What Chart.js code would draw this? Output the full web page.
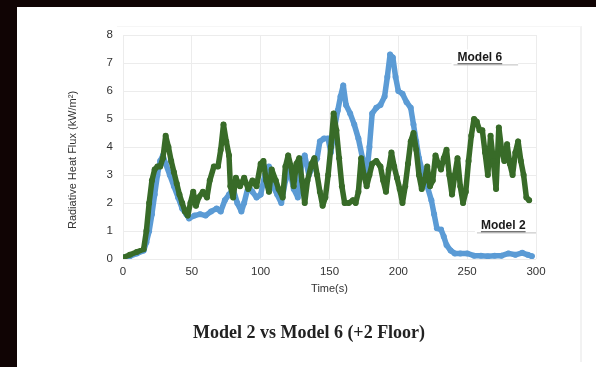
<!DOCTYPE html>
<html>
<head>
<meta charset="utf-8">
<script src="https://cdn.jsdelivr.net/npm/chart.js@4/dist/chart.umd.min.js"></script>
<style>
  html, body { margin: 0; padding: 0; background: #100404; }
  body { width: 596px; height: 367px; position: relative; overflow: hidden; }
  #paper { position: absolute; left: 17px; top: 7px; right: 0; bottom: 0; background: #fff; }
  #frame { position: absolute; left: 117px; top: 26px; width: 463px; height: 335px; border-right: 2px solid #f2f2f2; border-top: 1px solid #f6f6f6; }
  #wrap { position: absolute; left: 0; top: 0; width: 596px; height: 367px; }
  #caption { position: absolute; left: 0; width: 618px; top: 322px; text-align: center;
    font-family: "Liberation Serif", "DejaVu Serif", serif; font-weight: bold; font-size: 18px; color: #222; }
</style>
</head>
<body>
<div id="paper"></div>
<div id="frame"></div>
<div id="wrap"><canvas id="chart" width="596" height="367"></canvas></div>
<div id="caption">Model 2 vs Model 6 (+2 Floor)</div>
<script>
(function () {
    'use strict';

    // Model 2 (blue)
    var model2Time = [0, 5, 10, 15, 17, 19, 21, 23, 25, 27, 29, 31, 34, 37, 40, 43, 46, 48, 52, 56,
        60, 64, 68, 71, 74, 77, 80, 83, 86, 88, 91, 94, 97, 100, 103, 106, 109, 112, 115, 118,
        121, 124, 127, 130, 132, 135, 138, 141, 143, 146, 149, 151, 153, 156, 158, 160, 162, 165, 168, 171,
        174, 177, 179, 181, 184, 187, 190, 192, 194, 196, 198, 200, 203, 206, 209, 211, 213, 215, 218, 221,
        224, 226, 228, 231, 233, 235, 238, 241, 245, 250, 255, 260, 265, 270, 275, 280, 285, 290, 294, 297];
    var model2Flux = [0.05, 0.1, 0.2, 0.3, 0.6, 1.0, 1.6, 2.3, 3.0, 3.5, 3.7, 3.4, 3.0, 2.6, 2.2, 1.8, 1.6, 1.45, 1.55, 1.6,
        1.55, 1.7, 1.8, 1.7, 2.1, 2.3, 2.5, 2.0, 1.7, 2.0, 2.6, 2.4, 2.2, 2.3, 3.0, 3.3, 2.6, 2.3, 2.0, 2.8,
        3.2, 2.5, 2.2, 3.5, 3.7, 3.0, 3.3, 3.6, 4.2, 4.3, 4.3, 3.8, 4.5, 5.3, 5.8, 6.2, 5.5, 5.2, 4.8, 4.3,
        3.6, 3.0, 4.0, 5.2, 5.4, 5.5, 5.8, 6.5, 7.3, 7.2, 6.5, 6.0, 5.9, 5.6, 5.4, 4.8, 4.2, 3.6, 3.0, 2.6,
        2.1, 1.6, 1.1, 1.05, 0.8, 0.5, 0.3, 0.2, 0.2, 0.2, 0.12, 0.12, 0.1, 0.12, 0.12, 0.2, 0.15, 0.22, 0.15, 0.1];

    // Model 6 (green)
    var model6Time = [0, 5, 10, 15, 17, 19, 21, 23, 25, 27, 29, 31, 33, 35, 37, 39, 41, 43, 45, 47,
        49, 51, 53, 55, 58, 61, 63, 66, 69, 71, 73, 75, 77, 78, 80, 82, 85, 88, 91, 94,
        97, 100, 102, 104, 106, 108, 111, 113, 116, 118, 120, 122, 124, 126, 128, 130, 132, 134, 137, 139,
        141, 143, 145, 147, 149, 151, 153, 155, 157, 159, 161, 164, 167, 169, 171, 173, 175, 177, 179, 181,
        184, 187, 189, 191, 193, 195, 197, 199, 201, 203, 205, 207, 209, 211, 213, 215, 217, 219, 221, 223,
        225, 227, 229, 231, 233, 235, 237, 239, 241, 243, 245, 247, 249, 251, 253, 255, 257, 259, 261, 263,
        265, 267, 269, 271, 273, 275, 277, 279, 281, 283, 285, 287, 289, 291, 293, 295];
    var model6Flux = [0.05, 0.15, 0.25, 0.35, 1.0, 2.0, 2.8, 3.2, 3.3, 3.3, 3.6, 4.4, 4.0, 3.5, 3.1, 2.7, 2.3, 2.0, 1.7, 1.55,
        2.0, 2.4, 1.9, 2.2, 2.4, 2.2, 2.8, 3.3, 3.3, 3.9, 4.8, 4.2, 3.7, 2.6, 2.2, 2.9, 2.6, 2.9, 2.5, 2.8,
        2.6, 3.4, 3.5, 2.8, 2.4, 3.2, 2.8, 2.5, 2.2, 3.3, 3.7, 3.3, 2.6, 3.4, 3.6, 2.8, 2.0, 2.8, 3.4, 3.6,
        3.0, 2.4, 1.9, 2.2, 3.0, 4.0, 5.2, 4.6, 3.6, 2.6, 2.0, 2.0, 2.1, 2.0, 2.4, 3.6, 3.0, 2.6, 3.0, 3.4,
        3.5, 3.3, 2.8, 2.4, 3.2, 3.8, 3.3, 2.9, 2.5, 2.0, 2.6, 3.4, 4.2, 4.5, 3.9, 3.0, 2.5, 2.8, 3.3, 2.6,
        2.8, 3.7, 3.4, 3.2, 3.6, 3.9, 3.0, 2.3, 3.0, 3.6, 2.6, 2.0, 2.4, 3.5, 4.4, 5.0, 4.9, 4.6, 4.6, 3.8,
        3.0, 4.4, 3.5, 2.5, 4.7, 3.9, 3.5, 4.1, 3.4, 3.0, 3.8, 4.2, 3.5, 3.0, 2.2, 2.1];

    var xTicks = [0, 50, 100, 150, 200, 250, 300];
    var yTicks = [0, 1, 2, 3, 4, 5, 6, 7, 8];

    var yTitle = 'Radiative Heat Flux (kW/m²)';

    // text notes sitting inside the plot, at data coordinates
    var notes = [
        { text: 'Model 6', t: 243, v: 7.2, lineTo: 287 },
        { text: 'Model 2', t: 260, v: 1.2, lineTo: 300 }
    ];

    function toPoints(xs, ys) {
        return xs.map(function (x, i) { return { x: x, y: ys[i] }; });
    }

    var notePlugin = {
        id: 'notes',
        afterDatasetsDraw: function (chart) {
            var ctx = chart.ctx;
            var xs = chart.scales.x, ys = chart.scales.y;
            ctx.save();
            ctx.font = 'bold 12px "Liberation Sans Narrow", "Liberation Sans", Arial, sans-serif';
            ctx.textBaseline = 'middle';
            notes.forEach(function (n) {
                var px = xs.getPixelForValue(n.t);
                var py = ys.getPixelForValue(n.v);
                var end = xs.getPixelForValue(n.lineTo);
                var w = ctx.measureText(n.text).width;
                ctx.fillStyle = '#fff';
                ctx.fillRect(px - 6, py - 8, end - px + 6, 15);
                ctx.fillStyle = '#1a1a1a';
                ctx.fillText(n.text, px, py);
                ctx.fillRect(px, py + 6, w, 1);
                ctx.fillStyle = '#bdbdbd';
                ctx.fillRect(px - 4, py + 7, end - px + 4, 1);
            });
            ctx.restore();
        },
        afterDraw: function (chart) {
            // vertical axis title, a little below the centre as in the original
            var ctx = chart.ctx;
            ctx.save();
            ctx.translate(73, 160);
            ctx.rotate(-Math.PI / 2);
            ctx.font = '11px "Liberation Sans Narrow", "Liberation Sans", Arial, sans-serif';
            ctx.fillStyle = '#333';
            ctx.textAlign = 'center';
            ctx.textBaseline = 'middle';
            ctx.fillText(yTitle, 0, 0);
            ctx.restore();
        }
    };

    var tickFont = { family: '"Liberation Sans", Arial, sans-serif', size: 11.5 };

    new Chart(document.getElementById('chart'), {
        type: 'scatter',
        data: {
            datasets: [
                {
                    label: 'Model 6',
                    data: toPoints(model6Time, model6Flux),
                    showLine: true,
                    borderColor: '#386b28',
                    backgroundColor: '#386b28',
                    borderWidth: 5.5,
                    pointRadius: 3,
                    pointBorderWidth: 0,
                    borderJoinStyle: 'round',
                    borderCapStyle: 'round'
                },
                {
                    label: 'Model 2',
                    data: toPoints(model2Time, model2Flux),
                    showLine: true,
                    borderColor: '#5b9bd5',
                    backgroundColor: '#5b9bd5',
                    borderWidth: 5.5,
                    pointRadius: 3,
                    pointBorderWidth: 0,
                    borderJoinStyle: 'round',
                    borderCapStyle: 'round'
                }
            ]
        },
        options: {
            responsive: false,
            animation: false,
            events: [],
            layout: { padding: { left: 0, top: 35, right: 60, bottom: 58 } },
            plugins: {
                legend: { display: false },
                tooltip: { enabled: false }
            },
            scales: {
                x: {
                    type: 'linear',
                    min: 0,
                    max: 300,
                    afterBuildTicks: function (scale) {
                        scale.ticks = xTicks.map(function (v) { return { value: v }; });
                    },
                    afterFit: function (scale) { scale.height = 50; },
                    grid: { color: '#ececec', drawTicks: false },
                    border: { display: false },
                    ticks: { color: '#333', font: tickFont, padding: 6, maxRotation: 0 },
                    title: {
                        display: true,
                        text: 'Time(s)',
                        color: '#333',
                        font: { family: '"Liberation Sans Narrow", "Liberation Sans", Arial, sans-serif', size: 11 },
                        padding: { top: 0, bottom: 13 }
                    }
                },
                y: {
                    min: 0,
                    max: 8,
                    afterBuildTicks: function (scale) {
                        scale.ticks = yTicks.map(function (v) { return { value: v }; });
                    },
                    afterFit: function (scale) { scale.width = 123; },
                    grid: { color: '#ececec', drawTicks: false },
                    border: { display: false },
                    ticks: { color: '#333', font: tickFont, padding: 10 }
                }
            }
        },
        plugins: [notePlugin]
    });
})();
</script>
</body>
</html>
